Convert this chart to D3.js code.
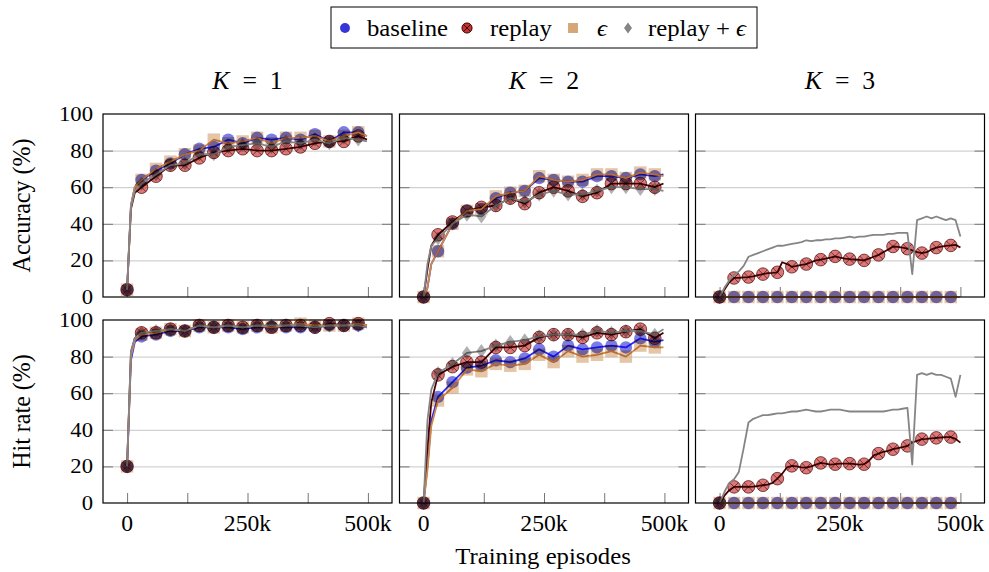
<!DOCTYPE html>
<html>
<head>
<meta charset="utf-8">
<script src="https://cdn.jsdelivr.net/npm/d3@7"></script>
<style>
	body { margin: 0; background: #fff; }
	svg text { font-family: 'Liberation Serif', 'DejaVu Serif', serif; fill: #000; }
</style>
</head>
<body>
<svg id="chart" width="989" height="572" font-family="'Liberation Serif', 'DejaVu Serif', serif"></svg>
<script>
// episodes in thousands
var lineEpisodes = [0, 8, 16, 30, 60, 90, 120, 150, 180, 210, 240, 270, 300, 330, 360, 390, 420, 450, 480, 498];
var traceEpisodes = [0, 10, 20, 30, 40, 50, 60, 70, 80, 90, 100, 110, 120, 130, 140, 150, 160, 170, 180, 190, 200,
	210, 220, 230, 240, 250, 260, 270, 280, 290, 300, 310, 320, 330, 340, 350, 360, 370, 380, 390, 400,
	410, 420, 430, 440, 450, 460, 470, 480, 490, 500];
var xTicks = [0, 125, 250, 375, 500];
var xTickLabels = ["0", "", "250k", "", "500k"];
var yTicks = [0, 20, 40, 60, 80, 100];
var colTitles = ["1", "2", "3"];
var rowLabels = ["Accuracy (%)", "Hit rate (%)"];
var seriesNames = ["baseline", "replay", "\u03f5", "replay + \u03f5"];

// K = 1, accuracy
var acc1Baseline = [4, 50, 60, 64, 69, 73, 78, 81, 82, 86, 84, 87, 86, 87, 86, 89, 85, 90, 90, 88];
var acc1Replay = [4, 48, 57, 60, 66, 72, 72, 76, 79, 80, 81, 80, 80, 81, 82, 84, 85, 85, 88, 86];
var acc1Eps = [4, 50, 60, 64, 70, 74, 78, 80, 86, 84, 85, 87, 84, 87, 87, 88, 85, 88, 90, 88];
var acc1ReplayEps = [4, 49, 58, 62, 67, 72, 73, 78, 78, 82, 83, 84, 82, 85, 84, 86, 84, 87, 86, 85];
// K = 2, accuracy
var acc2Baseline = [0, 5, 18, 25, 40, 47, 48, 54, 57, 58, 65, 64, 63, 63, 66, 66, 65, 67, 66, 67];
var acc2Replay = [0, 15, 28, 34, 41, 47, 49, 50, 54, 51, 57, 60, 58, 55, 57, 62, 62, 62, 60, 62];
var acc2Eps = [0, 5, 18, 25, 40, 47, 48, 55, 57, 58, 66, 64, 63, 64, 67, 67, 65, 68, 67, 66];
var acc2ReplayEps = [0, 18, 28, 32, 40, 45, 44, 50, 54, 52, 56, 58, 56, 56, 58, 60, 60, 59, 59, 58];
// K = 3, accuracy
var acc3Baseline = [0, 0, 0, 0, 0, 0, 0, 0, 0, 0, 0, 0, 0, 0, 0, 0, 0, 0, 0, 0];
var acc3Eps = [0, 0, 0, 0, 0, 0, 0, 0, 0, 0, 0, 0, 0, 0, 0, 0, 0, 0, 0, 0];
var acc3Replay = [0, 4, 8, 10.4, 10.5, 10.7, 10.9, 11.3, 12, 12.5, 13, 13.2, 13.5, 19, 18, 16.5, 17, 17.5, 18, 19, 20,
	20.4, 21, 21.5, 22.2, 21.5, 21, 20.7, 20.5, 20.3, 20, 21, 22, 23, 24.5, 26, 27.6, 27.4, 27, 26.4, 25.5,
	24.5, 24, 24.5, 26, 27, 27.5, 28, 28.2, 28.5, 27];
var acc3ReplayEps = [0, 5, 9, 12, 14, 17, 22, 23, 24, 25, 26, 27, 28, 28, 28.5, 29, 29.5, 30, 31, 30.5, 31,
	31, 31.5, 31.5, 32, 32, 32.5, 33, 32.5, 33, 33, 33.5, 34, 34, 34, 34.5, 34.5, 35, 35, 35, 12.5,
	42, 43, 44, 43, 44, 43, 42, 43, 42, 33];

// K = 1, hit rate
var hit1Baseline = [20, 78, 88, 91, 92, 94, 94, 96, 96, 96, 95, 96, 96, 96, 96, 96, 97, 97, 97, 96];
var hit1Replay = [20, 82, 90, 93, 93, 95, 94, 97, 96, 97, 96, 97, 96, 97, 97, 96, 98, 97, 98, 97];
var hit1Eps = [20, 80, 89, 92, 93, 95, 94, 97, 96, 97, 96, 97, 96, 97, 98, 97, 97, 97, 98, 97];
var hit1ReplayEps = [20, 83, 90, 93, 94, 95, 94, 97, 96, 97, 96, 97, 97, 97, 97, 96, 97, 97, 97, 96];
// K = 2, hit rate
var hit2Baseline = [0, 20, 45, 58, 66, 74, 75, 78, 77, 79, 84, 80, 86, 84, 85, 86, 85, 90, 88, 89];
var hit2Replay = [0, 30, 55, 70, 74.5, 77, 77, 85, 85, 86, 90.5, 92, 92, 90.5, 93, 92, 93.6, 95, 90, 93];
var hit2Eps = [0, 18, 42, 56, 63, 73, 72, 76, 75, 76, 81, 77, 83, 80, 81, 83, 80, 86, 85, 85];
var hit2ReplayEps = [0, 45, 62, 71, 76, 82, 83, 86, 88, 89, 91, 92, 92, 92, 94, 93, 94, 94, 92, 95];
// K = 3, hit rate
var hit3Baseline = [0, 0, 0, 0, 0, 0, 0, 0, 0, 0, 0, 0, 0, 0, 0, 0, 0, 0, 0, 0];
var hit3Eps = [0, 0, 0, 0, 0, 0, 0, 0, 0, 0, 0, 0, 0, 0, 0, 0, 0, 0, 0, 0];
var hit3Replay = [0, 4, 7, 8.8, 8.8, 9, 8.8, 9, 9.3, 9.7, 10, 11, 13.3, 16, 19.5, 20.3, 20, 19.5, 19.3, 20, 21,
	21.9, 21.5, 21, 21.2, 21.5, 21.5, 21.5, 21.3, 21, 21.2, 23, 26, 27, 28, 28.5, 29.4, 30, 30.5, 31.2, 33,
	34, 34.9, 35, 35.3, 35.6, 35.8, 36, 36, 35, 33];
var hit3ReplayEps = [0, 6, 11, 13, 17, 30, 44, 46, 47, 48, 48, 48.5, 49, 49, 49.5, 50, 50, 50.5, 51, 50.5, 50,
	50, 50.5, 51, 51, 51, 50.5, 50, 50, 50, 50, 50, 50, 50, 50, 50.5, 51, 51, 51.5, 52, 21,
	70, 71, 70, 71, 70, 70, 69, 68, 58, 70];

var styles = [
	{ shape: "circle", line: "#2a2aff", fill: "#3535d8" },
	{ shape: "cross", line: "#4a0000", fill: "#cc3030" },
	{ shape: "square", line: "#d08a45", fill: "#d6a676" },
	{ shape: "diamond", line: "#858585", fill: "#858585" }
];

function series(kind, ep, vals, marks) {
	var pts = ep.map(function(e, i) { return { e: e, v: vals[i] }; });
	var m = pts.filter(function(p) { return p.e % 30 === 0 && p.e <= 480; });
	if (marks === "first") m = m.slice(0, 1);
	return { kind: kind, pts: pts, marks: m };
}

var panels = [
	[series(0, lineEpisodes, acc1Baseline), series(1, lineEpisodes, acc1Replay), series(2, lineEpisodes, acc1Eps), series(3, lineEpisodes, acc1ReplayEps)],
	[series(0, lineEpisodes, acc2Baseline), series(1, lineEpisodes, acc2Replay), series(2, lineEpisodes, acc2Eps), series(3, lineEpisodes, acc2ReplayEps)],
	[series(0, lineEpisodes, acc3Baseline), series(1, traceEpisodes, acc3Replay), series(2, lineEpisodes, acc3Eps), series(3, traceEpisodes, acc3ReplayEps, "first")],
	[series(0, lineEpisodes, hit1Baseline), series(1, lineEpisodes, hit1Replay), series(2, lineEpisodes, hit1Eps), series(3, lineEpisodes, hit1ReplayEps)],
	[series(0, lineEpisodes, hit2Baseline), series(1, lineEpisodes, hit2Replay), series(2, lineEpisodes, hit2Eps), series(3, lineEpisodes, hit2ReplayEps)],
	[series(0, lineEpisodes, hit3Baseline), series(1, traceEpisodes, hit3Replay), series(2, lineEpisodes, hit3Eps), series(3, traceEpisodes, hit3ReplayEps, "first")]
];

// layout
var SX = 1.03;
var FS = 24;
var serifFont = "'Liberation Serif', 'DejaVu Serif', serif";
var colLeft = [103, 399.5, 695.5];
var rowTop = [114, 320];
var pw = 289, ph = 183;
var markOpacity = 0.65;

var svg = d3.select("#chart");

function label(g, x, y, txt, anchor, size) {
	return g.append("text")
		.attr("transform", "translate(" + x + "," + y + ") scale(" + SX + ",1)")
		.attr("text-anchor", anchor)
		.attr("font-family", serifFont)
		.style("font-size", (size || FS) + "px")
		.text(txt);
}

function drawMarker(g, kind, x, y, op, legend) {
	var st = styles[kind];
	var s = legend ? 0.8 : 1;
	if (kind === 0) {
		g.append("circle").attr("cx", x).attr("cy", y).attr("r", 6.2 * s)
			.attr("fill", st.fill).attr("fill-opacity", op);
	} else if (kind === 1) {
		var r = 6.3 * s, k = r * 0.7;
		g.append("circle").attr("cx", x).attr("cy", y).attr("r", r)
			.attr("fill", st.fill).attr("fill-opacity", op)
			.attr("stroke", "#3a0000").attr("stroke-opacity", op).attr("stroke-width", 1);
		g.append("path")
			.attr("d", "M" + (x - k) + "," + (y - k) + "L" + (x + k) + "," + (y + k) +
				"M" + (x - k) + "," + (y + k) + "L" + (x + k) + "," + (y - k))
			.attr("stroke", "#200000").attr("stroke-opacity", op).attr("stroke-width", 0.9);
	} else if (kind === 2) {
		var h = 6.2 * s;
		g.append("rect").attr("x", x - h).attr("y", y - h).attr("width", 2 * h).attr("height", 2 * h)
			.attr("fill", st.fill).attr("fill-opacity", op);
	} else {
		var dx = 5 * s, dy = 7 * s;
		g.append("path")
			.attr("d", "M" + x + "," + (y - dy) + "L" + (x + dx) + "," + y + "L" + x + "," + (y + dy) + "L" + (x - dx) + "," + y + "Z")
			.attr("fill", st.fill).attr("fill-opacity", op);
	}
}

panels.forEach(function(list, idx) {
	var col = idx % 3, row = Math.floor(idx / 3);
	var left = colLeft[col], top = rowTop[row];

	var x = d3.scaleLinear().domain([-50, 550]).range([left, left + pw]);
	var y = d3.scaleLinear().domain([0, 100]).range([top + ph, top]);

	var g = svg.append("g");

	// grid
	g.append("g")
		.attr("transform", "translate(" + left + ",0)")
		.call(d3.axisLeft(y).tickValues([20, 40, 60, 80]).tickSize(-pw).tickFormat(""))
		.call(function(a) {
			a.select(".domain").remove();
			a.selectAll("line").attr("stroke", "#c6c6c6").attr("stroke-width", 1);
		});

	// ticks, pointing inwards
	g.append("g")
		.attr("transform", "translate(" + left + ",0)")
		.call(d3.axisLeft(y).tickValues(yTicks.slice(1, 5)).tickSizeInner(-10).tickSizeOuter(0).tickFormat(""))
		.call(function(a) { a.select(".domain").remove(); a.selectAll("line").attr("stroke", "#777"); });
	g.append("g")
		.attr("transform", "translate(" + (left + pw) + ",0)")
		.call(d3.axisRight(y).tickValues(yTicks.slice(1, 5)).tickSizeInner(-10).tickSizeOuter(0).tickFormat(""))
		.call(function(a) { a.select(".domain").remove(); a.selectAll("line").attr("stroke", "#777"); });
	g.append("g")
		.attr("transform", "translate(0," + (top + ph) + ")")
		.call(d3.axisBottom(x).tickValues(xTicks).tickSizeInner(-10).tickSizeOuter(0).tickFormat(""))
		.call(function(a) { a.select(".domain").remove(); a.selectAll("line").attr("stroke", "#777"); });

	var clipId = "clip" + idx;
	svg.append("clipPath").attr("id", clipId)
		.append("rect").attr("x", left - 8).attr("y", top - 8).attr("width", pw + 16).attr("height", ph + 16);

	var plot = g.append("g").attr("clip-path", "url(#" + clipId + ")");
	var line = d3.line().x(function(d) { return x(d.e); }).y(function(d) { return y(d.v); });

	list.forEach(function(s) {
		plot.append("path").datum(s.pts)
			.attr("d", line)
			.attr("fill", "none")
			.attr("stroke", styles[s.kind].line)
			.attr("stroke-width", 1.8)
			.attr("stroke-linejoin", "round");
		// overlapping marks darken each other
		var mg = plot.append("g").style("mix-blend-mode", "multiply");
		s.marks.forEach(function(p) { drawMarker(mg, s.kind, x(p.e), y(p.v), markOpacity); });
	});

	// frame
	g.append("rect").attr("x", left).attr("y", top).attr("width", pw).attr("height", ph)
		.attr("fill", "none").attr("stroke", "#000").attr("stroke-width", 1.2);

	if (col === 0) {
		yTicks.forEach(function(t) { label(g, left - 10, y(t) + 7, String(t), "end", 22); });
		svg.append("text")
			.attr("transform", "translate(30," + (top + ph / 2) + ") scale(" + SX + ",1) rotate(-90)")
			.attr("text-anchor", "middle")
			.attr("font-family", serifFont)
			.style("font-size", FS + "px")
			.text(rowLabels[row]);
	}
	if (row === 1) {
		xTicks.forEach(function(t, i) {
			if (xTickLabels[i]) label(g, x(t), top + ph + 28, xTickLabels[i], "middle", 23);
		});
	}
	if (row === 0) {
		var tt = g.append("text")
			.attr("transform", "translate(" + (left + pw / 2) + ",89) scale(" + SX + ",1)")
			.attr("text-anchor", "middle")
			.attr("font-family", serifFont)
			.style("font-size", "25px");
		tt.append("tspan").style("font-style", "italic").text("K");
		tt.append("tspan").text("\u2002=\u2002" + colTitles[col]);
	}
});

label(svg, 543, 564, "Training episodes", "middle");

// legend
var lg = svg.append("g");
lg.append("rect").attr("x", 331).attr("y", 7).attr("width", 426).attr("height", 41)
	.attr("fill", "#fff").attr("stroke", "#000").attr("stroke-width", 1);
var legendMarkX = [345, 467, 573, 628];
var legendTextX = [367, 490, 597, 648];
seriesNames.forEach(function(n, i) {
	drawMarker(lg, i, legendMarkX[i], 28, 1, true);
	var t = label(lg, legendTextX[i], 36, "", "start");
	if (i === 2) {
		t.append("tspan").style("font-style", "italic").text(n);
	} else if (i === 3) {
		t.append("tspan").text("replay + ");
		t.append("tspan").style("font-style", "italic").text("\u03f5");
	} else {
		t.text(n);
	}
});
</script>
</body>
</html>
